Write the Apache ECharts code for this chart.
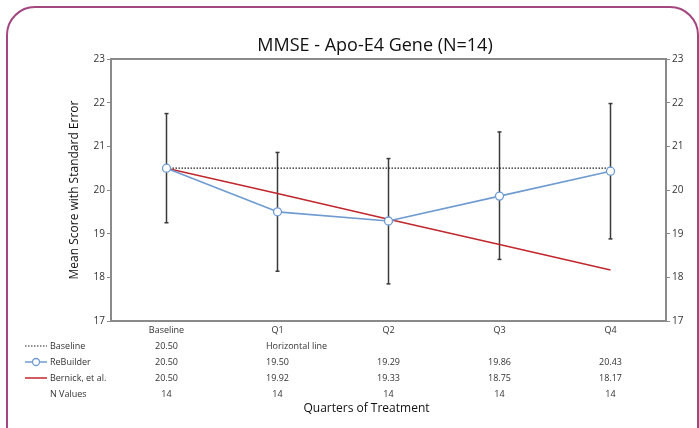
<!DOCTYPE html>
<html>
<head>
<meta charset="utf-8">
<script src="https://cdn.jsdelivr.net/npm/echarts@6/dist/echarts.min.js"></script>
<style>
  html, body { margin: 0; padding: 0; background: #fff; }
  #chart { width: 699px; height: 428px; }
</style>
</head>
<body>
<div id="chart"></div>
<script>
let categories = ["Baseline", "Q1", "Q2", "Q3", "Q4"];
let baseline = [20.5, 20.5, 20.5, 20.5, 20.5];
let rebuilder = [20.5, 19.5, 19.29, 19.86, 20.43];
let bernick = [20.5, 19.92, 19.33, 18.75, 18.17];
let errLow = [19.25, 18.14, 17.85, 18.41, 18.88];
let errHigh = [21.75, 20.86, 20.72, 21.33, 21.98];
let rowBaseline = ["20.50", "Horizontal line", "", "", ""];
let rowRebuilder = ["20.50", "19.50", "19.29", "19.86", "20.43"];
let rowBernick = ["20.50", "19.92", "19.33", "18.75", "18.17"];
let rowN = ["14", "14", "14", "14", "14"];
let yTicks = [17, 18, 19, 20, 21, 22, 23];

let font = "'Open Sans', sans-serif";
let chart = echarts.init(document.getElementById("chart"));

// one extra x axis per table row, labels taken from the row
function rowAxis(row, offset) {
  return {
    type: "category",
    data: categories,
    position: "bottom",
    offset: offset,
    axisLine: { show: false },
    axisTick: { show: false },
    axisLabel: {
      color: "#333",
      fontFamily: font,
      fontSize: 9,
      margin: 8,
      interval: 0,
      formatter: (v, i) => row[i] === "Horizontal line" ? "{h|" + row[i] + "}" : row[i],
      rich: { h: { fontFamily: font, fontSize: 9, color: "#333", padding: [0, 0, 0, 38] } }
    }
  };
}

function yAxis(pos) {
  return {
    type: "value",
    position: pos,
    min: 17,
    max: 23,
    interval: 1,
    splitLine: { show: false },
    axisLine: { show: true, lineStyle: { color: "#8a8a8a", width: 2 } },
    axisTick: { show: true, length: 4, lineStyle: { color: "#8a8a8a" } },
    axisLabel: {
      color: "#333",
      fontFamily: font,
      fontSize: 10,
      margin: 6,
      formatter: (v) => yTicks.indexOf(v) >= 0 ? String(v) : ""
    }
  };
}

let option = {
  animation: false,
  grid: {
    left: 111, right: 33, top: 59, bottom: 107,
    show: true, borderColor: "#8a8a8a", borderWidth: 2
  },
  title: {
    text: "MMSE - Apo-E4 Gene (N=14)",
    left: 370,
    textAlign: "center",
    top: 32,
    textStyle: { fontFamily: font, fontSize: 18, fontWeight: "normal", color: "#111" }
  },
  xAxis: [
    {
      type: "category",
      data: categories,
      name: "Quarters of Treatment",
      nameLocation: "middle",
      nameGap: 82,
      nameTextStyle: { fontFamily: font, fontSize: 12, color: "#111", padding: [0, 44, 0, 0] },
      axisLine: { show: true, lineStyle: { color: "#8a8a8a", width: 2 } },
      axisTick: { show: false },
      axisLabel: { color: "#333", fontFamily: font, fontSize: 9, margin: 5, interval: 0 }
    },
    rowAxis(rowBaseline, 13),
    rowAxis(rowRebuilder, 29),
    rowAxis(rowBernick, 45),
    rowAxis(rowN, 61)
  ],
  yAxis: [
    Object.assign(yAxis("left"), {
      name: "Mean Score with Standard Error",
      nameLocation: "middle",
      nameGap: 30,
      nameTextStyle: { fontFamily: font, fontSize: 12, color: "#111" }
    }),
    yAxis("right")
  ],
  graphic: [
    {
      type: "rect",
      shape: { x: 7, y: 7, width: 691, height: 460, r: 28 },
      style: { fill: "none", stroke: "#a2477f", lineWidth: 2 },
      silent: true
    },
    { type: "line", shape: { x1: 25, y1: 346, x2: 47, y2: 346 },
      style: { stroke: "#222", lineWidth: 1.2, lineDash: [1.5, 1.5] } },
    { type: "line", shape: { x1: 25, y1: 362, x2: 47, y2: 362 },
      style: { stroke: "#6f9bd0", lineWidth: 1.5 } },
    { type: "circle", shape: { cx: 36, cy: 362, r: 3.5 },
      style: { fill: "#fff", stroke: "#6f9bd0", lineWidth: 1.3 } },
    { type: "line", shape: { x1: 25, y1: 378, x2: 47, y2: 378 },
      style: { stroke: "#c0282d", lineWidth: 1.5 } },
    { type: "text", left: 50, top: 342, style: { text: "Baseline", font: "9px " + font, fill: "#333" } },
    { type: "text", left: 50, top: 358, style: { text: "ReBuilder", font: "9px " + font, fill: "#333" } },
    { type: "text", left: 50, top: 374, style: { text: "Bernick, et al.", font: "9px " + font, fill: "#333" } },
    { type: "text", left: 50, top: 390, style: { text: "N Values", font: "9px " + font, fill: "#333" } }
  ],
  series: [
    {
      type: "custom",
      name: "SE",
      z: 1,
      renderItem: (params, api) => {
        let x = api.value(0);
        let lo = api.coord([x, api.value(1)]);
        let hi = api.coord([x, api.value(2)]);
        let w = 2;
        let st = { stroke: "#3a3a3a", lineWidth: 1.5 };
        return {
          type: "group",
          children: [
            { type: "line", shape: { x1: lo[0], y1: lo[1], x2: hi[0], y2: hi[1] }, style: st },
            { type: "line", shape: { x1: lo[0] - w, y1: lo[1], x2: lo[0] + w, y2: lo[1] }, style: st },
            { type: "line", shape: { x1: hi[0] - w, y1: hi[1], x2: hi[0] + w, y2: hi[1] }, style: st }
          ]
        };
      },
      data: categories.map((c, i) => [i, errLow[i], errHigh[i]])
    },
    {
      type: "line",
      name: "Baseline",
      z: 2,
      data: baseline,
      symbol: "none",
      lineStyle: { color: "#222", width: 1.3, type: [1.5, 1.5] }
    },
    {
      type: "line",
      name: "Bernick, et al.",
      z: 3,
      data: bernick,
      symbol: "none",
      lineStyle: { color: "#c0282d", width: 1.6 }
    },
    {
      type: "line",
      name: "ReBuilder",
      z: 4,
      data: rebuilder,
      symbol: "circle",
      symbolSize: 8,
      itemStyle: { color: "#fff", borderColor: "#6f9bd0", borderWidth: 1.3 },
      lineStyle: { color: "#6f9bd0", width: 1.6 }
    }
  ]
};

chart.setOption(option);
</script>
</body>
</html>
